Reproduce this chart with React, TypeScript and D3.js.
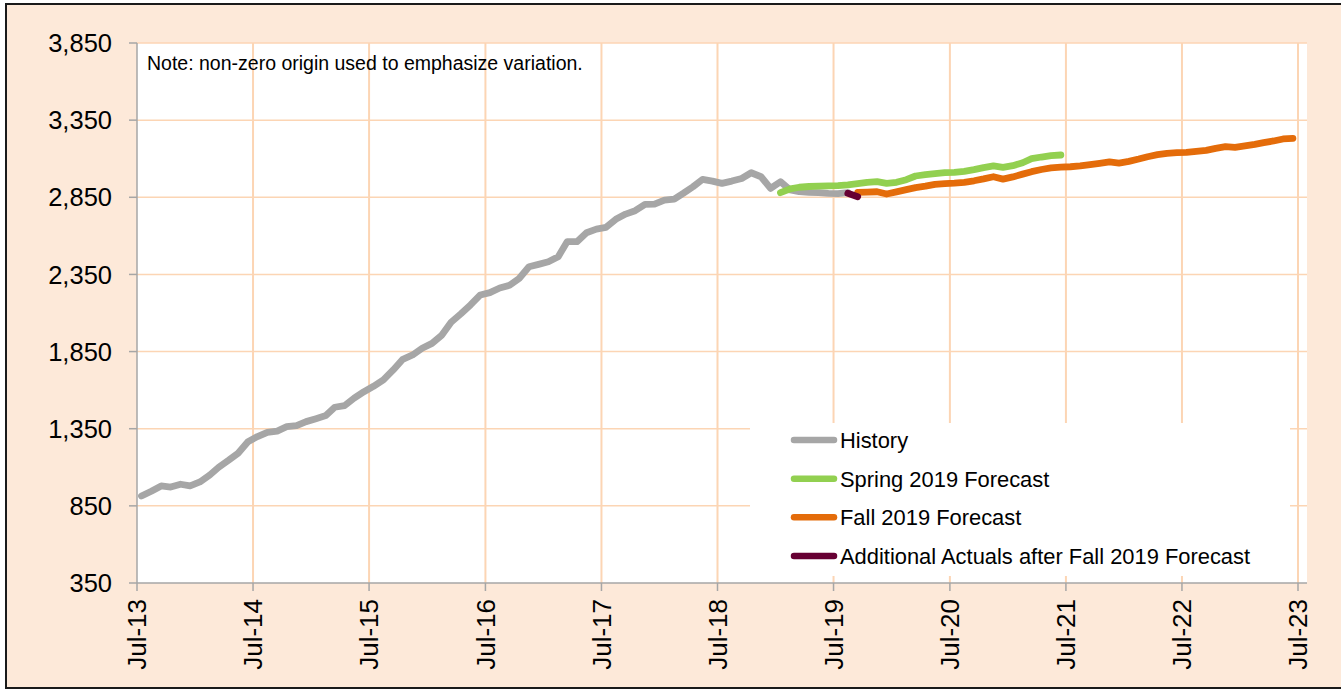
import React from 'react';
import * as d3 from 'd3';

// monthly values, plotted mid-month
const historyStart = '2013-07';
const historyValues = [
  914, 945, 979, 972, 990, 979, 1005, 1050, 1100, 1145, 1191, 1266,
  1299, 1327, 1335, 1363, 1370, 1396, 1415, 1435, 1489, 1500, 1548, 1590,
  1625, 1666, 1731, 1800, 1828, 1871, 1903, 1957, 2040, 2095, 2152, 2217,
  2232, 2262, 2280, 2324, 2400, 2415, 2432, 2465, 2562, 2562, 2620, 2644,
  2655, 2707, 2741, 2763, 2804, 2806, 2832, 2838, 2875, 2918, 2966, 2955,
  2940, 2955, 2972, 3009, 2983, 2908, 2951, 2897, 2886, 2882, 2880, 2876,
  2874, 2880,
];

const springStart = '2019-01';
const springValues = [
  2880, 2905, 2915, 2920, 2922, 2924, 2925, 2930, 2938, 2947, 2951, 2940,
  2947, 2964, 2988, 2997, 3003, 3010, 3012, 3018, 3029, 3042, 3053, 3044,
  3055, 3074, 3100, 3111, 3120, 3124,
];

const fallStart = '2019-09';
const fallValues = [
  2882, 2884, 2886, 2871, 2885, 2900, 2913, 2922, 2934, 2939, 2942, 2947,
  2957, 2969, 2983, 2968, 2982, 3000, 3016, 3030, 3040, 3045, 3048, 3053,
  3062, 3070, 3079, 3072, 3083, 3098, 3113, 3126, 3135, 3139, 3141, 3148,
  3154, 3167, 3178, 3174, 3183, 3193, 3204, 3215, 3228, 3232,
];

const actualsStart = '2019-08';
const actualsValues = [2876, 2854];

const yTicks = [350, 850, 1350, 1850, 2350, 2850, 3350, 3850];
const xTickLabels = ['Jul-13', 'Jul-14', 'Jul-15', 'Jul-16', 'Jul-17', 'Jul-18', 'Jul-19', 'Jul-20', 'Jul-21', 'Jul-22', 'Jul-23'];

const seriesNames = ['History', 'Spring 2019 Forecast', 'Fall 2019 Forecast', 'Additional Actuals after Fall 2019 Forecast'];
const seriesColors = ['#A6A6A6', '#92D050', '#E46C0A', '#660033'];

const noteText = 'Note: non-zero origin used to emphasize variation.';

const parseMonth = d3.timeParse('%Y-%m');
const parseTick = d3.timeParse('%b-%y');

type Pt = { date: Date; value: number };

const monthly = (start: string, values: number[]): Pt[] => {
  const s = parseMonth(start) as Date;
  return values.map((v, i) => ({ date: d3.timeDay.offset(d3.timeMonth.offset(s, i), 14), value: v }));
};

const W = 1341;
const H = 690;
const plot = { left: 137, right: 1307, top: 43, bottom: 583 };
const font = '"Liberation Sans", Arial, sans-serif';

const App: React.FC = () => {
  const x = d3.scaleTime()
    .domain([parseTick('Jul-13') as Date, parseTick('Jul-23') as Date])
    .range([137, 1298]);
  const y = d3.scaleLinear().domain([350, 3850]).range([plot.bottom, plot.top]);

  const line = d3.line<Pt>()
    .x(d => x(d.date))
    .y(d => y(d.value));

  const series = [
    monthly(historyStart, historyValues),
    monthly(springStart, springValues),
    monthly(fallStart, fallValues),
    monthly(actualsStart, actualsValues),
  ];

  const xTicks = xTickLabels.map(l => ({ label: l, date: parseTick(l) as Date }));
  const legendY = d3.scalePoint<number>().domain(d3.range(seriesNames.length)).range([440, 556]);

  return (
    <div>
      <style>{'body{margin:0}'}</style>
      <svg width={W} height={H} style={{ display: 'block', fontFamily: font }}>
        <rect x={0} y={0} width={W} height={H} fill="#FFFFFF" />
        <rect x={6} y={4} width={W} height={684} fill="#FDE9D9" stroke="#1a1a1a" strokeWidth={2} />
        <rect x={plot.left} y={plot.top} width={plot.right - plot.left} height={plot.bottom - plot.top} fill="#FFFFFF" />

        {/* gridlines */}
        {yTicks.slice(1).map(t => (
          <line key={`gy${t}`} x1={plot.left} x2={plot.right} y1={y(t)} y2={y(t)} stroke="#FCD5B4" strokeWidth={1.5} />
        ))}
        {xTicks.slice(1).map(t => (
          <line key={`gx${t.label}`} x1={x(t.date)} x2={x(t.date)} y1={plot.top} y2={plot.bottom} stroke="#FCD5B4" strokeWidth={2} />
        ))}

        {/* legend box hides grid */}
        <rect x={750} y={423} width={540} height={153} fill="#FFFFFF" />

        <text x={147} y={70} fontSize={19.5} fill="#000">{noteText}</text>

        {/* axes */}
        <line x1={plot.left} x2={plot.left} y1={plot.top} y2={plot.bottom} stroke="#A6A6A6" strokeWidth={1.5} />
        <line x1={plot.left} x2={plot.right} y1={plot.bottom} y2={plot.bottom} stroke="#A6A6A6" strokeWidth={1.5} />
        {yTicks.map(t => (
          <g key={`ty${t}`}>
            <line x1={plot.left - 8} x2={plot.left} y1={y(t)} y2={y(t)} stroke="#A6A6A6" strokeWidth={1.5} />
            <text x={112} y={y(t)} dy="0.36em" textAnchor="end" fontSize={25.5} fill="#000">
              {d3.format(',')(t)}
            </text>
          </g>
        ))}
        {xTicks.map(t => (
          <g key={`tx${t.label}`} transform={`translate(${x(t.date)},${plot.bottom})`}>
            <line y1={0} y2={8} stroke="#A6A6A6" strokeWidth={1.5} />
            <text transform="rotate(-90)" x={-16} dy="0.36em" textAnchor="end" fontSize={26} fill="#000">
              {t.label}
            </text>
          </g>
        ))}

        {/* series */}
        {series.map((s, i) => (
          <path key={seriesNames[i]} d={line(s) || ''} fill="none" stroke={seriesColors[i]}
            strokeWidth={6.8} strokeLinejoin="round" strokeLinecap="round" />
        ))}

        {/* legend */}
        {seriesNames.map((n, i) => (
          <g key={`lg${n}`} transform={`translate(0,${legendY(i)})`}>
            <line x1={794} x2={834} y1={0} y2={0} stroke={seriesColors[i]} strokeWidth={6.5} strokeLinecap="round" />
            <text x={840} dy="0.36em" fontSize={21.9} fill="#000">{n}</text>
          </g>
        ))}
      </svg>
    </div>
  );
};

export default App;
